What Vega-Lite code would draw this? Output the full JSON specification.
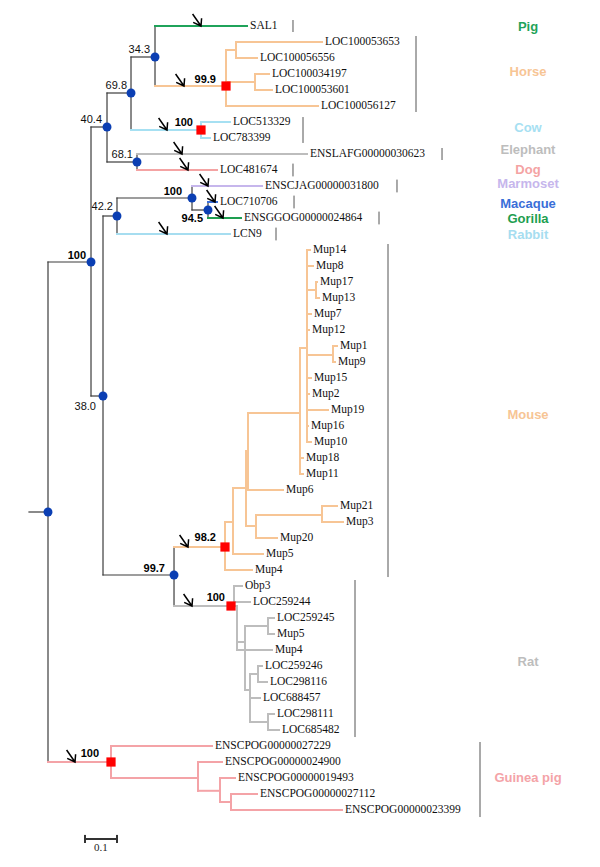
{
"$schema":"https://vega.github.io/schema/vega-lite/v6.json",
"width":600,"height":867,"autosize":{"type":"fit","contains":"padding"},"padding":0,"background":"white",
"config":{"view":{"stroke":null},"axis":{"disable":true}},
"datasets":{
"edges":[
{"x":-0.0594,"x2":0,"y":30.375,"y2":30.375,"g":"bb"},
{"x":0,"x2":0,"y":14.75,"y2":46,"g":"bb"},
{"x":0,"x2":0.1344,"y":14.75,"y2":14.75,"g":"bb"},
{"x":0.1344,"x2":0.1344,"y":6.3125,"y2":23.125,"g":"bb"},
{"x":0.1344,"x2":0.1844,"y":6.3125,"y2":6.3125,"g":"bb"},
{"x":0.1844,"x2":0.1844,"y":4.1875,"y2":8.5,"g":"bb"},
{"x":0.1844,"x2":0.2594,"y":4.1875,"y2":4.1875,"g":"bb"},
{"x":0.2594,"x2":0.2594,"y":1.9375,"y2":6.5,"g":"bb"},
{"x":0.2594,"x2":0.3344,"y":1.9375,"y2":1.9375,"g":"bb"},
{"x":0.3344,"x2":0.3344,"y":0,"y2":3.75,"g":"bb"},
{"x":0.1844,"x2":0.2781,"y":8.5,"y2":8.5,"g":"bb"},
{"x":0.2781,"x2":0.2781,"y":8,"y2":9,"g":"bb"},
{"x":0.1344,"x2":0.1719,"y":23.125,"y2":23.125,"g":"bb"},
{"x":0.1719,"x2":0.1719,"y":11.875,"y2":34.3125,"g":"bb"},
{"x":0.1719,"x2":0.2156,"y":11.875,"y2":11.875,"g":"bb"},
{"x":0.2156,"x2":0.2156,"y":10.75,"y2":13,"g":"bb"},
{"x":0.2156,"x2":0.45,"y":10.75,"y2":10.75,"g":"bb"},
{"x":0.45,"x2":0.45,"y":10,"y2":11.5,"g":"bb"},
{"x":0.45,"x2":0.5,"y":11.5,"y2":11.5,"g":"bb"},
{"x":0.5,"x2":0.5,"y":11,"y2":12,"g":"bb"},
{"x":0.1719,"x2":0.3938,"y":34.3125,"y2":34.3125,"g":"bb"},
{"x":0.3938,"x2":0.3938,"y":32.5625,"y2":36.25,"g":"bb"},
{"x":0.3344,"x2":0.6219,"y":0,"y2":0,"g":"pig","label":"SAL1"},
{"x":0.3344,"x2":0.5563,"y":3.75,"y2":3.75,"g":"horse"},
{"x":0.5563,"x2":0.5563,"y":1.5,"y2":5,"g":"horse"},
{"x":0.5563,"x2":0.5875,"y":1.5,"y2":1.5,"g":"horse"},
{"x":0.5875,"x2":0.5875,"y":1,"y2":2,"g":"horse"},
{"x":0.5875,"x2":0.8563,"y":1,"y2":1,"g":"horse","label":"LOC100053653"},
{"x":0.5875,"x2":0.6531,"y":2,"y2":2,"g":"horse","label":"LOC100056556"},
{"x":0.5563,"x2":0.6469,"y":3.5,"y2":3.5,"g":"horse"},
{"x":0.6469,"x2":0.6469,"y":3,"y2":4,"g":"horse"},
{"x":0.6469,"x2":0.6906,"y":3,"y2":3,"g":"horse","label":"LOC100034197"},
{"x":0.6469,"x2":0.7,"y":4,"y2":4,"g":"horse","label":"LOC100053601"},
{"x":0.5563,"x2":0.8438,"y":5,"y2":5,"g":"horse","label":"LOC100056127"},
{"x":0.2594,"x2":0.4781,"y":6.5,"y2":6.5,"g":"cow"},
{"x":0.4781,"x2":0.4781,"y":6,"y2":7,"g":"cow"},
{"x":0.4781,"x2":0.5688,"y":6,"y2":6,"g":"cow","label":"LOC513329"},
{"x":0.4781,"x2":0.5063,"y":7,"y2":7,"g":"cow","label":"LOC783399"},
{"x":0.2781,"x2":0.8094,"y":8,"y2":8,"g":"ele","label":"ENSLAFG00000030623"},
{"x":0.2781,"x2":0.5281,"y":9,"y2":9,"g":"dog","label":"LOC481674"},
{"x":0.45,"x2":0.6688,"y":10,"y2":10,"g":"marm","label":"ENSCJAG00000031800"},
{"x":0.5,"x2":0.5281,"y":11,"y2":11,"g":"mac","label":"LOC710706"},
{"x":0.5,"x2":0.6031,"y":12,"y2":12,"g":"gor","label":"ENSGGOG00000024864"},
{"x":0.2156,"x2":0.5688,"y":13,"y2":13,"g":"rab","label":"LCN9"},
{"x":0.3938,"x2":0.5531,"y":32.5625,"y2":32.5625,"g":"mouse"},
{"x":0.5531,"x2":0.5531,"y":31,"y2":34,"g":"mouse"},
{"x":0.5531,"x2":0.6375,"y":34,"y2":34,"g":"mouse","label":"Mup4"},
{"x":0.5531,"x2":0.5781,"y":31,"y2":31,"g":"mouse"},
{"x":0.5781,"x2":0.5781,"y":28.875,"y2":33,"g":"mouse"},
{"x":0.5781,"x2":0.6719,"y":33,"y2":33,"g":"mouse","label":"Mup5"},
{"x":0.5781,"x2":0.6188,"y":28.875,"y2":28.875,"g":"mouse"},
{"x":0.6188,"x2":0.6188,"y":26.5625,"y2":31.25,"g":"mouse"},
{"x":0.6188,"x2":0.65,"y":31.25,"y2":31.25,"g":"mouse"},
{"x":0.65,"x2":0.65,"y":30.5625,"y2":32,"g":"mouse"},
{"x":0.65,"x2":0.7156,"y":32,"y2":32,"g":"mouse","label":"Mup20"},
{"x":0.65,"x2":0.8563,"y":30.5625,"y2":30.5625,"g":"mouse"},
{"x":0.8563,"x2":0.8563,"y":30,"y2":31,"g":"mouse"},
{"x":0.8563,"x2":0.9031,"y":30,"y2":30,"g":"mouse","label":"Mup21"},
{"x":0.8563,"x2":0.9219,"y":31,"y2":31,"g":"mouse","label":"Mup3"},
{"x":0.6188,"x2":0.625,"y":26.5625,"y2":26.5625,"g":"mouse"},
{"x":0.625,"x2":0.625,"y":24.1875,"y2":29,"g":"mouse"},
{"x":0.625,"x2":0.7344,"y":29,"y2":29,"g":"mouse","label":"Mup6"},
{"x":0.625,"x2":0.7875,"y":24.1875,"y2":24.1875,"g":"mouse"},
{"x":0.7875,"x2":0.7875,"y":20.125,"y2":28,"g":"mouse"},
{"x":0.7875,"x2":0.7969,"y":28,"y2":28,"g":"mouse","label":"Mup11"},
{"x":0.7875,"x2":0.7969,"y":27,"y2":27,"g":"mouse","label":"Mup18"},
{"x":0.7875,"x2":0.8094,"y":20.125,"y2":20.125,"g":"mouse"},
{"x":0.8094,"x2":0.8094,"y":14,"y2":26,"g":"mouse"},
{"x":0.8094,"x2":0.8219,"y":26,"y2":26,"g":"mouse","label":"Mup10"},
{"x":0.8094,"x2":0.8125,"y":25,"y2":25,"g":"mouse","label":"Mup16"},
{"x":0.8094,"x2":0.875,"y":24,"y2":24,"g":"mouse","label":"Mup19"},
{"x":0.8094,"x2":0.8156,"y":23,"y2":23,"g":"mouse","label":"Mup2"},
{"x":0.8094,"x2":0.8219,"y":22,"y2":22,"g":"mouse","label":"Mup15"},
{"x":0.8094,"x2":0.8906,"y":20.5625,"y2":20.5625,"g":"mouse"},
{"x":0.8906,"x2":0.8906,"y":20,"y2":21,"g":"mouse"},
{"x":0.8906,"x2":0.9031,"y":20,"y2":20,"g":"mouse","label":"Mup1"},
{"x":0.8906,"x2":0.8969,"y":21,"y2":21,"g":"mouse","label":"Mup9"},
{"x":0.8094,"x2":0.8156,"y":19,"y2":19,"g":"mouse","label":"Mup12"},
{"x":0.8094,"x2":0.8219,"y":18,"y2":18,"g":"mouse","label":"Mup7"},
{"x":0.8094,"x2":0.8375,"y":16.5,"y2":16.5,"g":"mouse"},
{"x":0.8375,"x2":0.8375,"y":16,"y2":17,"g":"mouse"},
{"x":0.8375,"x2":0.8406,"y":16,"y2":16,"g":"mouse","label":"Mup17"},
{"x":0.8375,"x2":0.8469,"y":17,"y2":17,"g":"mouse","label":"Mup13"},
{"x":0.8094,"x2":0.8281,"y":15,"y2":15,"g":"mouse","label":"Mup8"},
{"x":0.8094,"x2":0.8188,"y":14,"y2":14,"g":"mouse","label":"Mup14"},
{"x":0.3938,"x2":0.5719,"y":36.25,"y2":36.25,"g":"rat"},
{"x":0.5719,"x2":0.5906,"y":36.25,"y2":36.25,"g":"rat"},
{"x":0.5813,"x2":0.5813,"y":35,"y2":36.25,"g":"rat"},
{"x":0.5813,"x2":0.6063,"y":35,"y2":35,"g":"rat","label":"Obp3"},
{"x":0.5813,"x2":0.6313,"y":36,"y2":36,"g":"rat","label":"LOC259244"},
{"x":0.5906,"x2":0.5906,"y":36.25,"y2":39,"g":"rat"},
{"x":0.5906,"x2":0.7,"y":39,"y2":39,"g":"rat","label":"Mup4"},
{"x":0.5906,"x2":0.6156,"y":38.5,"y2":38.5,"g":"rat"},
{"x":0.6156,"x2":0.6156,"y":37.5,"y2":41.5,"g":"rat"},
{"x":0.6156,"x2":0.6875,"y":37.5,"y2":37.5,"g":"rat"},
{"x":0.6875,"x2":0.6875,"y":37,"y2":38,"g":"rat"},
{"x":0.6875,"x2":0.7063,"y":37,"y2":37,"g":"rat","label":"LOC259245"},
{"x":0.6875,"x2":0.7063,"y":38,"y2":38,"g":"rat","label":"Mup5"},
{"x":0.6156,"x2":0.6313,"y":41.5,"y2":41.5,"g":"rat"},
{"x":0.6313,"x2":0.6313,"y":40.5,"y2":43.5,"g":"rat"},
{"x":0.6313,"x2":0.6563,"y":40.5,"y2":40.5,"g":"rat"},
{"x":0.6563,"x2":0.6563,"y":40,"y2":41,"g":"rat"},
{"x":0.6563,"x2":0.6688,"y":40,"y2":40,"g":"rat","label":"LOC259246"},
{"x":0.6563,"x2":0.6844,"y":41,"y2":41,"g":"rat","label":"LOC298116"},
{"x":0.6313,"x2":0.6625,"y":42,"y2":42,"g":"rat","label":"LOC688457"},
{"x":0.6313,"x2":0.6875,"y":43.5,"y2":43.5,"g":"rat"},
{"x":0.6875,"x2":0.6875,"y":43,"y2":44,"g":"rat"},
{"x":0.6875,"x2":0.7063,"y":43,"y2":43,"g":"rat","label":"LOC298111"},
{"x":0.6875,"x2":0.7219,"y":44,"y2":44,"g":"rat","label":"LOC685482"},
{"x":0,"x2":0.1969,"y":46,"y2":46,"g":"gp"},
{"x":0.1969,"x2":0.1969,"y":45,"y2":47,"g":"gp"},
{"x":0.1969,"x2":0.5125,"y":45,"y2":45,"g":"gp","label":"ENSCPOG00000027229"},
{"x":0.1969,"x2":0.4688,"y":47,"y2":47,"g":"gp"},
{"x":0.4688,"x2":0.4688,"y":46,"y2":47.8,"g":"gp"},
{"x":0.4688,"x2":0.5438,"y":46,"y2":46,"g":"gp","label":"ENSCPOG00000024900"},
{"x":0.4688,"x2":0.5375,"y":47.8,"y2":47.8,"g":"gp"},
{"x":0.5375,"x2":0.5375,"y":47,"y2":48.5,"g":"gp"},
{"x":0.5375,"x2":0.5844,"y":47,"y2":47,"g":"gp","label":"ENSCPOG00000019493"},
{"x":0.5375,"x2":0.5719,"y":48.5,"y2":48.5,"g":"gp"},
{"x":0.5719,"x2":0.5719,"y":48,"y2":49,"g":"gp"},
{"x":0.5719,"x2":0.6531,"y":48,"y2":48,"g":"gp","label":"ENSCPOG00000027112"},
{"x":0.5719,"x2":0.9188,"y":49,"y2":49,"g":"gp","label":"ENSCPOG00000023399"},
{"x":0.1156,"x2":0.2156,"y":50.81,"y2":50.81,"g":"sb"},
{"x":0.1156,"x2":0.1156,"y":50.62,"y2":51.0,"g":"sb"},
{"x":0.2156,"x2":0.2156,"y":50.62,"y2":51.0,"g":"sb"}
],
"species":[
{"sp":"Pig","g":"pig","bx":0.7656,"y1":-0.375,"y2":0.375,"ly":0.06},
{"sp":"Horse","g":"horse","bx":1.15,"y1":0.625,"y2":5.375,"ly":2.875},
{"sp":"Cow","g":"cow","bx":0.7969,"y1":5.69,"y2":7.31,"ly":6.375},
{"sp":"Elephant","g":"ele","bx":1.2313,"y1":7.625,"y2":8.375,"ly":7.75},
{"sp":"Dog","g":"dog","bx":0.7656,"y1":8.6,"y2":9.4,"ly":9.0},
{"sp":"Marmoset","g":"marm","bx":1.0906,"y1":9.6,"y2":10.4,"ly":9.875},
{"sp":"Macaque","g":"mac","bx":0.7688,"y1":10.6,"y2":11.4,"ly":11.125},
{"sp":"Gorilla","g":"gor","bx":1.0344,"y1":11.6,"y2":12.4,"ly":12.06},
{"sp":"Rabbit","g":"rab","bx":0.7125,"y1":12.6,"y2":13.4,"ly":13.06},
{"sp":"Mouse","g":"mouse","bx":1.0625,"y1":13.625,"y2":34.44,"ly":24.3},
{"sp":"Rat","g":"rat","bx":0.9594,"y1":34.625,"y2":44.44,"ly":39.75},
{"sp":"Guinea pig","g":"gp","bx":1.35,"y1":44.75,"y2":49.44,"ly":47.0}
],
"support":[
{"t":"34.3","x":0.3188,"y":1.5,"b":false},
{"t":"69.8","x":0.2469,"y":3.75,"b":false},
{"t":"40.4","x":0.1688,"y":5.875,"b":false},
{"t":"68.1","x":0.2656,"y":8.06,"b":false},
{"t":"100","x":0.1188,"y":14.375,"b":true},
{"t":"42.2","x":0.2031,"y":11.3,"b":false},
{"t":"100","x":0.4188,"y":10.375,"b":true},
{"t":"94.5","x":0.4844,"y":12.06,"b":true},
{"t":"38.0","x":0.15,"y":23.8,"b":false},
{"t":"99.7","x":0.3656,"y":33.94,"b":true},
{"t":"99.9","x":0.525,"y":3.375,"b":true},
{"t":"100","x":0.4531,"y":6.06,"b":true},
{"t":"98.2","x":0.525,"y":32.0,"b":true},
{"t":"100","x":0.5531,"y":35.75,"b":true},
{"t":"100","x":0.1594,"y":45.5,"b":true}
],
"nodes":[
{"x":0.3344,"y":1.9375,"t":"bs"},{"x":0.2594,"y":4.1875,"t":"bs"},{"x":0.1844,"y":6.3125,"t":"bs"},
{"x":0.2781,"y":8.5,"t":"bs"},{"x":0.1344,"y":14.75,"t":"bs"},{"x":0.2156,"y":11.875,"t":"bs"},
{"x":0.45,"y":10.75,"t":"bs"},{"x":0.5,"y":11.5,"t":"bs"},{"x":0.1719,"y":23.125,"t":"bs"},
{"x":0.3938,"y":34.3125,"t":"bs"},{"x":0,"y":30.375,"t":"bs"},
{"x":0.5563,"y":3.75,"t":"sig"},{"x":0.4781,"y":6.5,"t":"sig"},{"x":0.5531,"y":32.5625,"t":"sig"},
{"x":0.5719,"y":36.25,"t":"sig"},{"x":0.1969,"y":46,"t":"sig"}
],
"arrows":[
{"x":0.4781,"y":0},{"x":0.425,"y":3.75},{"x":0.3719,"y":6.5},{"x":0.4188,"y":8},{"x":0.4375,"y":9},
{"x":0.5,"y":10},{"x":0.5219,"y":11},{"x":0.5469,"y":12},{"x":0.3719,"y":13},{"x":0.4375,"y":32.5625},
{"x":0.45,"y":36.25},{"x":0.0844,"y":46}
],
"scaletext":[{"t":"0.1","x":0.1656,"y":51.375}]
},
"layer":[
{"data":{"name":"edges"},
 "mark":{"type":"rule","strokeCap":"square"},
 "encoding":{
  "x":{"field":"x","type":"quantitative","scale":{"domain":[-0.15,1.725],"nice":false,"zero":false}},
  "x2":{"field":"x2"},
  "y":{"field":"y","type":"quantitative","scale":{"domain":[-1.625,52.5625],"reverse":true,"nice":false,"zero":false}},
  "y2":{"field":"y2"},
  "color":{"field":"g","type":"nominal","legend":null,"scale":{"domain":["bb","sb","pig","horse","cow","ele","dog","marm","mac","gor","rab","mouse","rat","gp"],"range":["#3c3c3c","#333333","#1FA35A","#F7C595","#A6E0F2","#BDBDBD","#F4A3A3","#C6B6EC","#3A6ED8","#1E9E50","#A6DDF0","#F7C595","#BDBDBD","#F4A3A7"]}},
  "strokeWidth":{"condition":{"test":"datum.g==='bb'","value":1.2},"value":2}
 }},
{"data":{"name":"species"},
 "mark":{"type":"rule","color":"#555555","strokeWidth":1},
 "encoding":{"x":{"field":"bx","type":"quantitative"},"y":{"field":"y1","type":"quantitative"},"y2":{"field":"y2"}}},
{"data":{"name":"species"},
 "mark":{"type":"text","font":"Liberation Sans","fontWeight":"bold","fontSize":13,"align":"center","baseline":"middle"},
 "encoding":{"x":{"datum":1.5,"type":"quantitative"},"y":{"field":"ly","type":"quantitative"},"text":{"field":"sp"},
  "color":{"field":"g","type":"nominal","legend":null}}},
{"data":{"name":"edges"},
 "transform":[{"filter":"isValid(datum.label)"}],
 "mark":{"type":"text","font":"Liberation Serif","fontSize":11.5,"align":"left","baseline":"middle","dx":3,"color":"#111111"},
 "encoding":{"x":{"field":"x2","type":"quantitative"},"y":{"field":"y","type":"quantitative"},"text":{"field":"label"}}},
{"data":{"name":"support"},
 "transform":[{"filter":"!datum.b"}],
 "mark":{"type":"text","font":"Liberation Sans","fontSize":11,"fontWeight":"normal","align":"right","baseline":"middle","color":"#111111"},
 "encoding":{"x":{"field":"x","type":"quantitative"},"y":{"field":"y","type":"quantitative"},"text":{"field":"t"}}},
{"data":{"name":"support"},
 "transform":[{"filter":"datum.b"}],
 "mark":{"type":"text","font":"Liberation Sans","fontSize":11,"fontWeight":"bold","align":"right","baseline":"middle","color":"#000000"},
 "encoding":{"x":{"field":"x","type":"quantitative"},"y":{"field":"y","type":"quantitative"},"text":{"field":"t"}}},
{"data":{"name":"nodes"},
 "mark":{"type":"point","filled":true,"opacity":1},
 "encoding":{"x":{"field":"x","type":"quantitative"},"y":{"field":"y","type":"quantitative"},
  "shape":{"condition":{"test":"datum.t==='sig'","value":"square"},"value":"circle"},
  "size":{"condition":{"test":"datum.t==='sig'","value":85},"value":80},
  "color":{"condition":{"test":"datum.t==='sig'","value":"#FF0000"},"value":"#0B3FB3"}}},
{"data":{"name":"arrows"},
 "mark":{"type":"point","filled":false,"shape":"M -1.4 -2 L 0 0 M 0.1 -1.3 L 0 0 L -1.3 -0.6","size":144,"strokeWidth":1.5,"color":"#000000","opacity":1},
 "encoding":{"x":{"field":"x","type":"quantitative"},"y":{"field":"y","type":"quantitative"}}},
{"data":{"name":"scaletext"},
 "mark":{"type":"text","font":"Liberation Serif","fontSize":11,"align":"center","baseline":"middle","color":"#222222"},
 "encoding":{"x":{"field":"x","type":"quantitative"},"y":{"field":"y","type":"quantitative"},"text":{"field":"t"}}}
]
}
